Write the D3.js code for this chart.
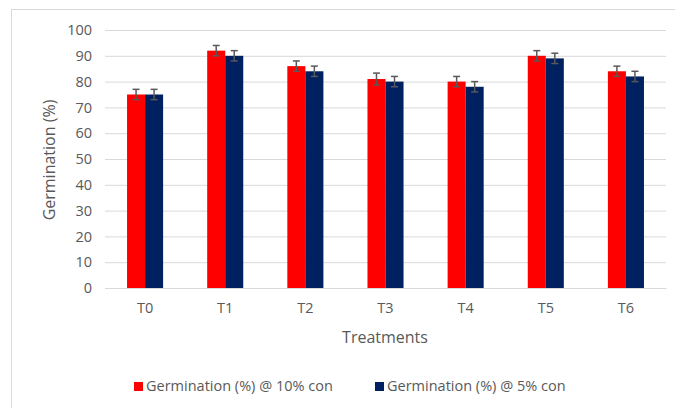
<!DOCTYPE html>
<html><head><meta charset="utf-8">
<script src="https://cdn.jsdelivr.net/npm/d3@7"></script>
<style>body{margin:0;background:#fff;} text{font-family:"Open Sans",sans-serif;}</style>
</head><body>
<svg id="c" width="675" height="408"></svg>
<script>
const categories = ["T0","T1","T2","T3","T4","T5","T6"];
const seriesNames = ["Germination (%) @ 10% con","Germination (%) @ 5% con"];
const values10 = [75, 92, 86, 81, 80, 90, 84];
const values5  = [75, 90, 84, 80, 78, 89, 82];
const err10 = [2, 2, 2, 2.3, 2, 2, 2];
const err5  = [2, 2, 2, 2, 2, 2, 2];
const yTicks = [0,10,20,30,40,50,60,70,80,90,100];
const colors = ["#ff0000","#002060"];

const svg = d3.select("#c");
svg.append("rect").attr("x",11.5).attr("y",9.5).attr("width",680).attr("height",420)
  .attr("fill","#fff").attr("stroke","#d9d9d9");

const x = d3.scaleBand().domain(categories).range([105,666]).paddingInner(0.55).paddingOuter(0.275);
const y = d3.scaleLinear().domain([0,100]).range([288,30]);
const xs = d3.scaleBand().domain([0,1]).range([0,x.bandwidth()]);

const yAxis = d3.axisLeft(y).tickValues(yTicks).tickSize(-(666-105)).tickPadding(13);
const gy = svg.append("g").attr("transform","translate(105,0)").call(yAxis);
gy.select(".domain").remove();
gy.selectAll(".tick line").attr("stroke","#d9d9d9").attr("stroke-width",1);
gy.selectAll(".tick text").attr("fill","#595959").style("font-size","14.5px");

const xAxis = d3.axisBottom(x).tickSize(0).tickPadding(15);
const gx = svg.append("g").attr("transform","translate(0,288)").call(xAxis);
gx.select(".domain").attr("stroke","#d9d9d9");
gx.selectAll(".tick text").attr("fill","#595959").style("font-size","14.5px");

const data = categories.map((c,i)=>({c, v:[values10[i],values5[i]], e:[err10[i],err5[i]]}));
const groups = svg.append("g").selectAll("g").data(data).join("g")
  .attr("transform", d=>`translate(${x(d.c)},0)`);
[0,1].forEach(s=>{
  groups.append("rect").attr("x",xs(s)).attr("width",xs.bandwidth())
    .attr("y",d=>y(d.v[s])).attr("height",d=>y(0)-y(d.v[s])).attr("fill",colors[s]);
  const cx = xs(s)+xs.bandwidth()/2;
  groups.append("line").attr("x1",cx).attr("x2",cx)
    .attr("y1",d=>y(d.v[s]+d.e[s])).attr("y2",d=>y(d.v[s]-d.e[s]))
    .attr("stroke","#595959").attr("stroke-width",1.5);
  [1,-1].forEach(sg=>{
    groups.append("line").attr("x1",cx-3.5).attr("x2",cx+3.5)
      .attr("y1",d=>y(d.v[s]+sg*d.e[s])).attr("y2",d=>y(d.v[s]+sg*d.e[s]))
      .attr("stroke","#595959").attr("stroke-width",1.5);
  });
});

svg.append("text").attr("transform","translate(55,160) rotate(-90)").attr("text-anchor","middle")
  .attr("fill","#595959").style("font-size","16px").text("Germination (%)");
svg.append("text").attr("x",385).attr("y",343).attr("text-anchor","middle")
  .attr("fill","#595959").style("font-size","16px").text("Treatments");

const legX = [134, 375];
seriesNames.forEach((n,i)=>{
  svg.append("rect").attr("x",legX[i]).attr("y",382).attr("width",9).attr("height",9).attr("fill",colors[i]);
  svg.append("text").attr("x",legX[i]+12).attr("y",391).attr("fill","#595959").style("font-size","14.5px").text(n);
});
</script>
</body></html>
